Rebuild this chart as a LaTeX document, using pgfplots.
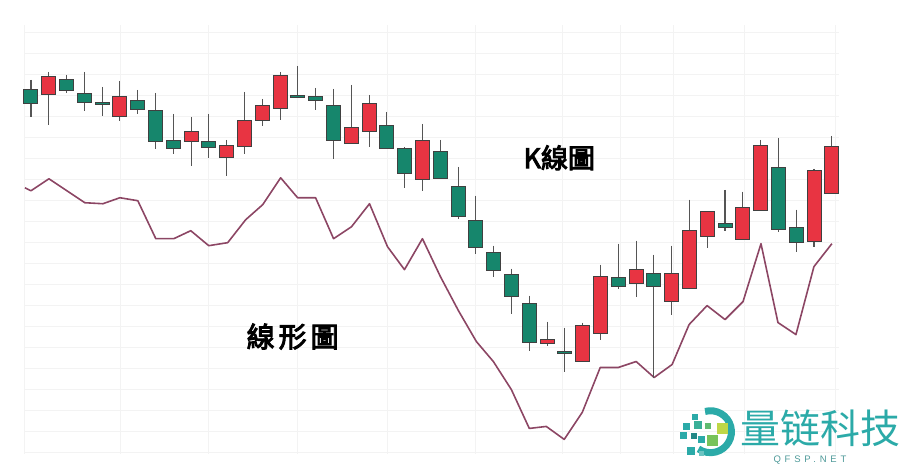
\documentclass[border=0pt]{standalone}
\usepackage{pgfplots}
\pgfplotsset{compat=1.18}
\usepackage{pgfplotstable}
\usepackage{fontspec}
\setmainfont{Liberation Sans}
\newfontfamily\cjk{Noto Sans CJK TC}[FakeBold=3.5]
\newfontfamily\cjksc{Noto Sans CJK SC}
\definecolor{cred}{RGB}{232,52,66}
\definecolor{cgreen}{RGB}{22,134,108}
\definecolor{cline}{RGB}{140,70,100}
\definecolor{wick}{RGB}{85,85,85}
\definecolor{wmteal}{RGB}{43,170,168}
\definecolor{wmgreen}{RGB}{120,195,90}
\definecolor{wmyellow}{RGB}{190,215,70}
\definecolor{wmgrid}{RGB}{243,243,243}
\pgfdeclareplotmark{nothing}{}

% pixel coordinates: x, body top, body bottom, high, low, body height, wick length
\pgfplotstableread{
x top bot hi lo h e
31.0 90 104 80 117 14 37
66.6 80 91 75 93 11 18
84.5 94 103 72 111 9 39
102.3 103 105 87 116 2 29
137.9 101 110 90 114 9 24
155.7 111 142 93 149 31 56
173.6 141 149 114 154 8 40
209.2 142 148 114 158 6 44
298.3 96 98 66 98 2 32
316.1 97 101 88 110 4 22
333.9 106 141 89 159 35 70
387.4 126 149 112 149 23 37
405.2 149 174 147 188 25 41
440.9 152 179 140 179 27 39
458.7 187 217 167 219 30 52
476.5 221 248 196 254 27 58
494.3 253 271 246 277 18 31
512.1 275 297 269 314 22 45
530.0 304 343 296 351 39 55
565.6 352 354 328 372 2 44
619.1 278 287 244 289 9 45
654.7 274 287 255 378 13 123
726.0 224 228 190 231 4 41
779.4 168 230 138 232 62 94
797.3 228 243 210 252 15 42
}\greendata

\pgfplotstableread{
x top bot hi lo h e
48.8 77 95 72 125 18 53
120.1 97 117 81 121 20 40
191.4 132 142 117 166 10 49
227.0 146 158 140 176 12 36
244.8 121 147 92 154 26 62
262.7 106 121 99 126 15 27
280.5 76 109 72 120 33 48
351.8 128 144 85 144 16 59
369.6 104 132 95 147 28 52
423.0 141 180 124 191 39 67
547.8 340 344 322 346 4 24
583.4 326 362 323 362 36 39
601.2 277 334 265 340 57 75
636.9 270 284 241 297 14 56
672.5 274 302 246 315 28 69
690.3 231 289 200 289 58 89
708.2 212 237 212 248 25 36
743.8 208 240 192 240 32 48
761.6 146 211 140 211 65 71
815.1 171 242 169 247 71 78
832.9 147 194 136 194 47 58
}\reddata

\begin{document}
\begin{tikzpicture}
\begin{axis}[
  width=900pt, height=469pt, scale only axis,
  xmin=0, xmax=900, ymin=0, ymax=469, y dir=reverse,
  enlargelimits=false, axis lines=none, clip=false,
]
\path (rel axis cs:0,0) rectangle (rel axis cs:1,1);
% grid
\pgfplotsinvokeforeach{33,54,75,96,117,138,159,180,201,222,243,264,285,306,327,348,369,390,411,432,453}{
  \draw[wmgrid, line width=1pt] (axis cs:25,#1) -- (axis cs:840,#1);
}
\pgfplotsinvokeforeach{25,121,209,298,388,476,563,621,674,745,837}{
  \draw[wmgrid, line width=1pt] (axis cs:#1,25) -- (axis cs:#1,455);
}
% line chart
\addplot[cline, line width=1.6pt, mark=none, line join=round] coordinates {
(25,188) (31,191) (49,179) (85,203) (103,204) (120,198) (138,201) (156,239)
(174,239) (191,231) (209,246) (228,243) (246,220) (263,205) (281,178) (298,198)
(316,198) (334,239) (352,227) (370,204) (388,247) (405,270) (423,239) (441,277)
(459,311) (477,342) (494,362) (512,390) (530,429) (547,427) (565,440) (583,413)
(601,368) (619,368) (637,362) (655,378) (673,365) (690,325) (708,306) (726,320)
(744,302) (762,244) (779,323) (797,335) (815,267) (833,244)
};
% wicks
\addplot[only marks, mark=nothing, error bars/.cd, y dir=plus, y explicit, error mark=none,
  error bar style={draw=wick, line width=1.1pt}]
  table[x=x, y=hi, y error=e] {\greendata};
\addplot[only marks, mark=nothing, error bars/.cd, y dir=plus, y explicit, error mark=none,
  error bar style={draw=wick, line width=1.1pt}]
  table[x=x, y=hi, y error=e] {\reddata};
% bodies
\addplot[only marks, mark=nothing, scatter,
  visualization depends on={\thisrow{h} \as \bh},
  scatter/@pre marker code/.code={\draw[fill=cgreen, draw=black!75, line width=1pt] (-7pt,0pt) rectangle (7pt,-\bh pt);},
  scatter/@post marker code/.code={}]
  table[x=x, y=top] {\greendata};
\addplot[only marks, mark=nothing, scatter,
  visualization depends on={\thisrow{h} \as \bh},
  scatter/@pre marker code/.code={\draw[fill=cred, draw=black!75, line width=1pt] (-7pt,0pt) rectangle (7pt,-\bh pt);},
  scatter/@post marker code/.code={}]
  table[x=x, y=top] {\reddata};
% labels
\node[black] at (axis cs:560,158) {\cjk\fontsize{27}{27}\selectfont K線圖};
\node[black] at (axis cs:293,337) {\cjk\fontsize{28}{28}\selectfont 線\hspace{4pt}形\hspace{4pt}圖};
% watermark
\draw[wmteal, line width=7pt] (axis cs:706,412) arc[start angle=105, end angle=-125, radius=21pt];
\fill[wmteal] (axis cs:693,415) rectangle (axis cs:699,421);
\fill[wmteal] (axis cs:684,424) rectangle (axis cs:691,431);
\fill[wmteal!80!wmgreen] (axis cs:695,422) rectangle (axis cs:703,430);
\fill[wmgreen!70!wmteal] (axis cs:706,424) rectangle (axis cs:712,430);
\fill[wmyellow] (axis cs:718,424) rectangle (axis cs:729,435);
\fill[wmteal] (axis cs:681,433) rectangle (axis cs:688,440);
\fill[wmteal!80!black] (axis cs:692,434) rectangle (axis cs:698,440);
\fill[wmteal] (axis cs:699,437) rectangle (axis cs:706,444);
\fill[wmgreen] (axis cs:708,436) rectangle (axis cs:719,447);
\fill[wmteal] (axis cs:688,448) rectangle (axis cs:696,456);
\fill[wmteal!70] (axis cs:700,452) rectangle (axis cs:705,457);
\node[anchor=west, wmteal, inner sep=0pt] at (axis cs:741,429) {\cjksc\fontsize{40}{40}\selectfont 量链科技};
\node[inner sep=0pt, color=wmteal!60!gray] at (axis cs:811,461) {\fontsize{9.5}{10}\selectfont\addfontfeature{LetterSpace=40}QFSP.NET};
\end{axis}
\end{tikzpicture}
\end{document}
